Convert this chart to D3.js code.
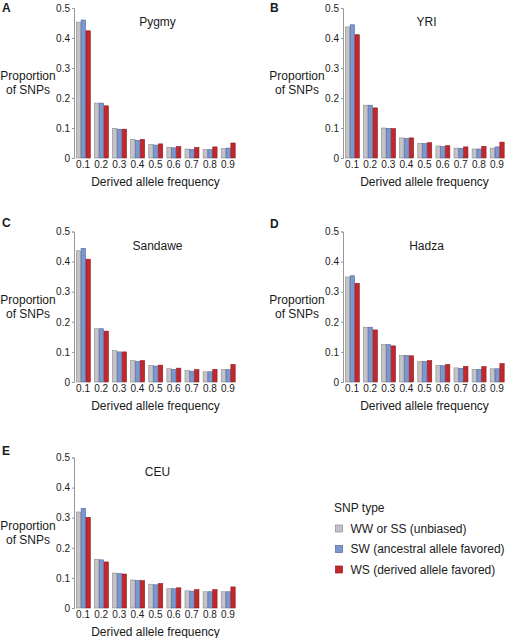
<!DOCTYPE html>
<html><head><meta charset="utf-8">
<script src="https://cdn.jsdelivr.net/npm/d3@7"></script>
<style>
html,body{margin:0;padding:0;background:#fff;}
svg{display:block;font-family:"Liberation Sans",Arial,sans-serif;}
</style></head>
<body><svg id="chart" width="506" height="638"></svg>
<script>
// ---- data ----
const categories = ["0.1","0.2","0.3","0.4","0.5","0.6","0.7","0.8","0.9"];
const seriesNames = ["WW or SS (unbiased)","SW (ancestral allele favored)","WS (derived allele favored)"];
const yTicks = [0, 0.1, 0.2, 0.3, 0.4, 0.5];
const yTickLabels = ["0","0.1","0.2","0.3","0.4","0.5"];
const panelLetters = ["A","B","C","D","E"];
const populations = ["Pygmy","YRI","Sandawe","Hadza","CEU"];

const pygmyWW = [0.453,0.183,0.099,0.062,0.045,0.036,0.030,0.028,0.031];
const pygmySW = [0.460,0.183,0.096,0.059,0.043,0.034,0.029,0.028,0.033];
const pygmyWS = [0.424,0.174,0.096,0.062,0.047,0.038,0.035,0.037,0.050];

const yriWW = [0.437,0.176,0.100,0.067,0.049,0.040,0.033,0.030,0.033];
const yriSW = [0.444,0.176,0.099,0.065,0.048,0.038,0.032,0.030,0.037];
const yriWS = [0.411,0.167,0.098,0.067,0.051,0.041,0.037,0.039,0.053];

const sandaweWW = [0.436,0.177,0.104,0.071,0.055,0.044,0.038,0.034,0.041];
const sandaweSW = [0.444,0.177,0.100,0.068,0.053,0.042,0.036,0.034,0.041];
const sandaweWS = [0.408,0.169,0.100,0.071,0.056,0.046,0.041,0.042,0.058];

const hadzaWW = [0.349,0.182,0.124,0.088,0.068,0.055,0.047,0.042,0.044];
const hadzaSW = [0.353,0.182,0.124,0.088,0.068,0.054,0.045,0.042,0.044];
const hadzaWS = [0.328,0.173,0.120,0.087,0.071,0.058,0.052,0.051,0.061];

const ceuWW = [0.319,0.162,0.116,0.093,0.079,0.064,0.057,0.054,0.054];
const ceuSW = [0.331,0.160,0.114,0.091,0.077,0.064,0.056,0.054,0.054];
const ceuWS = [0.301,0.153,0.113,0.091,0.081,0.067,0.061,0.061,0.070];

const popSeries = [
  [pygmyWW, pygmySW, pygmyWS],
  [yriWW, yriSW, yriWS],
  [sandaweWW, sandaweSW, sandaweWS],
  [hadzaWW, hadzaSW, hadzaWS],
  [ceuWW, ceuSW, ceuWS]
];

// ---- styles ----
const fills = ["#c4c4c8","#7b97cd","#c1272d"];
const strokes = ["#8a8a8e","#4d649e","#8c1b20"];
const textColor = "#1a1a1a";

// ---- layout per panel ----
const layout = [
  {left:74, right:237, top:8,   bottom:158, lx:2,   ly:12},
  {left:343,right:506, top:8,   bottom:158, lx:270, ly:12},
  {left:74, right:237, top:231.5, bottom:382, lx:2, ly:227},
  {left:343,right:506, top:231.5, bottom:382, lx:270, ly:228},
  {left:74, right:237, top:457.5, bottom:608, lx:2, ly:455}
];

const svg = d3.select("#chart");

layout.forEach((L, pi) => {
  const g = svg.append("g");
  const x0 = d3.scaleBand().domain(categories).range([L.left, L.right]).paddingInner(0.2).paddingOuter(0.1);
  const x1 = d3.scaleBand().domain([0,1,2]).range([0, x0.bandwidth()]).padding(0);
  const y = d3.scaleLinear().domain([0, 0.5]).range([L.bottom, L.top]);

  // bars
  const series = popSeries[pi];
  categories.forEach((c, ci) => {
    series.forEach((arr, si) => {
      g.append("rect")
        .attr("x", x0(c) + x1(si) + 0.5)
        .attr("y", y(arr[ci]))
        .attr("width", x1.bandwidth() - 0.5)
        .attr("height", y(0) - y(arr[ci]))
        .attr("fill", fills[si])
        .attr("stroke", strokes[si])
        .attr("stroke-width", 0.6);
    });
  });

  // y axis
  const yAxis = d3.axisLeft(y).tickValues(yTicks).tickFormat((d,i)=>yTickLabels[i]).tickSize(2).tickPadding(2);
  const ya = g.append("g").attr("transform", `translate(${L.left},0)`).call(yAxis);
  ya.select(".domain").attr("stroke","#999").attr("stroke-width",1);
  ya.selectAll(".tick line").attr("stroke","#999");
  ya.selectAll("text").attr("font-size", 10).attr("fill", textColor).attr("font-family","Liberation Sans, Arial, sans-serif");

  // x axis labels
  const xAxis = d3.axisBottom(x0).tickSize(0).tickPadding(3);
  const xa = g.append("g").attr("transform", `translate(0,${L.bottom})`).call(xAxis);
  xa.select(".domain").remove();
  xa.selectAll("text").attr("font-size", 10).attr("fill", textColor).attr("font-family","Liberation Sans, Arial, sans-serif");

  const cx = (L.left + L.right) / 2;
  // title
  g.append("text").attr("x", cx + 2).attr("y", L.top + 18)
    .attr("text-anchor","middle").attr("font-size",12).attr("fill",textColor).text(populations[pi]);
  // x title
  g.append("text").attr("x", cx).attr("y", L.bottom + 28)
    .attr("text-anchor","middle").attr("font-size",12).attr("fill",textColor).text("Derived allele frequency");
  // y title
  const my = (L.top + L.bottom) / 2;
  const yt = g.append("text").attr("text-anchor","middle").attr("font-size",12).attr("fill",textColor);
  yt.append("tspan").attr("x", L.left - 46).attr("y", my - 3).text("Proportion");
  yt.append("tspan").attr("x", L.left - 46).attr("y", my + 11).text("of SNPs");
  // letter
  g.append("text").attr("x", L.lx).attr("y", L.ly).attr("font-size",12).attr("font-weight","bold")
    .attr("fill",textColor).text(panelLetters[pi]);
});

// legend
const lg = svg.append("g");
lg.append("text").attr("x", 334).attr("y", 512).attr("font-size",12).attr("fill",textColor).text("SNP type");
seriesNames.forEach((n, i) => {
  const cy = 528.5 + i * 20.5;
  lg.append("rect").attr("x", 335.5).attr("y", cy - 3.5).attr("width", 7).attr("height", 7)
    .attr("fill", fills[i]).attr("stroke", strokes[i]).attr("stroke-width", 0.7);
  lg.append("text").attr("x", 350.5).attr("y", cy + 4.2).attr("font-size",12).attr("fill",textColor).text(n);
});
</script></body></html>
